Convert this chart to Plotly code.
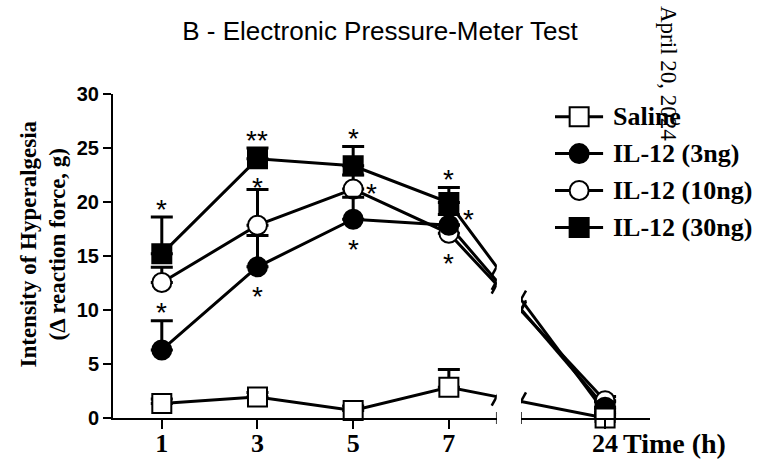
import plotly.graph_objects as go

# ---------------- data ----------------
times = [1, 3, 5, 7, 24]
x_ticks_early = [1, 3, 5, 7]
x_ticks_late = [24]
y_ticks = [0, 5, 10, 15, 20, 25, 30]

series_names = ['Saline', 'IL-12 (3ng)', 'IL-12 (10ng)', 'IL-12 (30ng)']
saline = [1.35, 1.95, 0.7, 2.85, 0.0]
saline_err = [0.4, 0.4, 0.4, 1.65, 0.3]
il12_3 = [6.3, 14.0, 18.4, 17.85, 1.0]
il12_3_err = [2.7, 2.9, 2.05, 1.0, 0.5]
il12_10 = [12.55, 17.85, 21.2, 17.1, 1.6]
il12_10_err = [1.4, 3.3, 1.3, 0.8, 0.4]
il12_30 = [15.2, 24.0, 23.35, 19.95, 0.5]
il12_30_err = [3.4, 1.0, 1.8, 1.4, 0.3]

# significance marks: series, time, text, placement
sig_series = ['IL-12 (30ng)', 'IL-12 (10ng)', 'IL-12 (30ng)', 'IL-12 (10ng)', 'IL-12 (3ng)',
              'IL-12 (30ng)', 'IL-12 (10ng)', 'IL-12 (3ng)', 'IL-12 (30ng)', 'IL-12 (3ng)', 'IL-12 (10ng)']
sig_time = [1, 1, 3, 3, 3, 5, 5, 5, 7, 7, 7]
sig_text = ['*', '*', '**', '*', '*', '*', '*', '*', '*', '*', '*']
sig_place = ['above', 'below', 'above', 'above_tight', 'below', 'above', 'right', 'below',
             'above', 'upright', 'below']

# ---------------- layout geometry ----------------
W, H = 763, 459
PL, PR, PT, PB = 113, 113, 94, 41
plot_w = W - PL - PR
plot_h = H - PT - PB


def fx(px):
    return (px - PL) / plot_w


def fy(py):
    return (H - PB - py) / plot_h


D1 = [0, fx(496.7)]
R1 = [-0.02, 8.0]
D2 = [fx(521), 1]
R2 = [22.24, 24.94]

values = {'Saline': saline, 'IL-12 (3ng)': il12_3, 'IL-12 (10ng)': il12_10, 'IL-12 (30ng)': il12_30}
errors = {'Saline': saline_err, 'IL-12 (3ng)': il12_3_err, 'IL-12 (10ng)': il12_10_err,
          'IL-12 (30ng)': il12_30_err}
styles = {
    'Saline': dict(symbol='square', color='white'),
    'IL-12 (3ng)': dict(symbol='circle', color='black'),
    'IL-12 (10ng)': dict(symbol='circle', color='white'),
    'IL-12 (30ng)': dict(symbol='square', color='black'),
}
MS = 19
LW = 3


def px_of(v, dom, rng):
    return PL + plot_w * (dom[0] + (v - rng[0]) / (rng[1] - rng[0]) * (dom[1] - dom[0]))


p7 = px_of(times[3], D1, R1)
pA = px_of(R1[1], D1, R1)
pB = px_of(R2[0], D2, R2)
p24 = px_of(times[4], D2, R2)
fA = (pA - p7) / (p24 - p7)
fB = (pB - p7) / (p24 - p7)

fig = go.Figure()
shapes = []

# connecting lines (with break)
for name in series_names:
    v = values[name]
    yA = v[3] + fA * (v[4] - v[3])
    yB = v[3] + fB * (v[4] - v[3])
    fig.add_trace(go.Scatter(x=times[:4] + [R1[1]], y=v[:4] + [yA], mode='lines',
                             line=dict(color='black', width=LW), xaxis='x', yaxis='y',
                             showlegend=False, hoverinfo='skip'))
    fig.add_trace(go.Scatter(x=[R2[0], times[4]], y=[yB, v[4]], mode='lines',
                             line=dict(color='black', width=LW), xaxis='x2', yaxis='y',
                             showlegend=False, hoverinfo='skip'))
    for xr, xv, yv in (('x', R1[1], yA), ('x2', R2[0], yB)):
        shapes.append(dict(type='line', xref=xr, yref='y', xsizemode='pixel', ysizemode='pixel',
                           xanchor=xv, yanchor=yv, x0=-5, x1=5, y0=-9, y1=9,
                           line=dict(color='black', width=2.5)))

# markers with error bars (z-order as in the reference)
for name in ['IL-12 (10ng)', 'IL-12 (3ng)', 'IL-12 (30ng)', 'Saline']:
    v = values[name]
    e = errors[name]
    st = styles[name]
    for xr, sl in (('x', slice(0, 4)), ('x2', slice(4, 5))):
        n = len(times[sl])
        fig.add_trace(go.Scatter(
            x=times[sl], y=v[sl], mode='markers', xaxis=xr, yaxis='y', cliponaxis=False,
            marker=dict(symbol=st['symbol'], size=MS, color=st['color'],
                        line=dict(color='black', width=2)),
            error_y=dict(type='data', array=e[sl], arrayminus=[0] * n, symmetric=False,
                         color='black', thickness=3, width=11),
            showlegend=False, hoverinfo='skip'))

# axis break end ticks
shapes.append(dict(type='line', xref='x', yref='paper', ysizemode='pixel', yanchor=0,
                   x0=R1[1], x1=R1[1], y0=-6, y1=6, line=dict(color='black', width=1.5)))
shapes.append(dict(type='line', xref='x2', yref='paper', ysizemode='pixel', yanchor=0,
                   x0=R2[0], x1=R2[0], y0=-6, y1=6, line=dict(color='black', width=1.5)))

# legend drawn on its own hidden axes
LEG_ROW0 = 116.7 - PT
LEG_STEP = 36.9
for i, name in enumerate(series_names):
    st = styles[name]
    ry = LEG_ROW0 + i * LEG_STEP
    fig.add_trace(go.Scatter(x=[0, 1], y=[ry, ry], mode='lines', xaxis='x3', yaxis='y3',
                             line=dict(color='black', width=LW), showlegend=False,
                             hoverinfo='skip'))
    fig.add_trace(go.Scatter(x=[0.5], y=[ry], mode='markers', xaxis='x3', yaxis='y3',
                             marker=dict(symbol=st['symbol'], size=MS, color=st['color'],
                                         line=dict(color='black', width=2)),
                             showlegend=False, hoverinfo='skip', cliponaxis=False))

annotations = []
for i, name in enumerate(series_names):
    ry = LEG_ROW0 + i * LEG_STEP
    annotations.append(dict(text=name, xref='paper', yref='y3', x=fx(611), y=ry,
                            xanchor='left', yanchor='middle', showarrow=False,
                            font=dict(family='Liberation Serif', size=26, color='black',
                                      weight='bold')))

# significance asterisks
GLYPH = -6
shift = {'above': (0, 14), 'above_tight': (0, 8), 'below': (0, -24),
         'right': (18, 2), 'upright': (20, 12)}
for s, t, txt, pl in zip(sig_series, sig_time, sig_text, sig_place):
    k = times.index(t)
    yv = values[s][k] + (errors[s][k] if pl.startswith('above') else 0)
    dx, dy = shift[pl]
    annotations.append(dict(text=txt, xref='x', yref='y', x=t, y=yv, xshift=dx, yshift=dy + GLYPH,
                            showarrow=False, xanchor='center', yanchor='middle',
                            font=dict(family='Liberation Sans', size=28, color='black')))

# axis titles
annotations.append(dict(text='Intensity of Hyperalgesia<br>(\u0394 reaction force, g)',
                        xref='paper', yref='paper', x=0, y=0.5, xshift=42.5 - PL, yshift=12,
                        textangle=-90, showarrow=False, xanchor='center', yanchor='middle',
                        font=dict(family='Liberation Serif', size=23, color='black',
                                  weight='bold')))
annotations.append(dict(text='Time (h)', xref='paper', yref='paper', x=fx(621), y=fy(443.5),
                        xanchor='left', yanchor='middle', showarrow=False,
                        font=dict(family='Liberation Serif', size=28, color='black',
                                  weight='bold')))
# side date stamp
annotations.append(dict(text='April 20, 2024', xref='paper', yref='paper', x=fx(668), y=fy(73),
                        xanchor='center', yanchor='middle', textangle=90, showarrow=False,
                        font=dict(family='Liberation Serif', size=23, color='black')))

tick_serif = dict(family='Liberation Serif', size=26, color='black', weight='bold')

fig.update_layout(
    width=W, height=H,
    margin=dict(l=PL, r=PR, t=PT, b=PB, pad=0, autoexpand=False),
    paper_bgcolor='white', plot_bgcolor='rgba(0,0,0,0)',
    title=dict(text='B - Electronic Pressure-Meter Test', x=380 / W, xanchor='center',
               xref='container', y=1 - 31 / H, yanchor='middle', yref='container',
               font=dict(family='Liberation Sans', size=26, color='black')),
    xaxis=dict(domain=D1, range=R1, tickvals=x_ticks_early,
               ticktext=[str(v) for v in x_ticks_early], ticks='outside', ticklen=9,
               tickwidth=1.5, tickcolor='black', showline=True, linecolor='black',
               linewidth=1.5, showgrid=False, zeroline=False, tickfont=tick_serif,
               ticklabelstandoff=-8,
               anchor='y', fixedrange=True, automargin=False),
    xaxis2=dict(domain=D2, range=R2, tickvals=x_ticks_late,
                ticktext=[str(v) for v in x_ticks_late], ticks='outside', ticklen=9,
                tickwidth=1.5, tickcolor='black', showline=True, linecolor='black',
                linewidth=1.5, showgrid=False, zeroline=False, tickfont=tick_serif,
                ticklabelstandoff=-8,
                anchor='y', fixedrange=True, automargin=False),
    yaxis=dict(domain=[0, 1], range=[0, 30], tickvals=y_ticks, ticks='outside', ticklen=8,
               tickwidth=2, tickcolor='black', showline=True, linecolor='black',
               linewidth=2, showgrid=False, zeroline=False, anchor='x',
               tickfont=dict(family='Liberation Sans', size=20, color='black', weight='bold'),
               fixedrange=True, automargin=False),
    xaxis3=dict(domain=[fx(555), fx(603.3)], range=[0, 1], visible=False, anchor='y3',
                fixedrange=True),
    yaxis3=dict(domain=[0, 1], range=[plot_h, 0], visible=False, anchor='x3',
                fixedrange=True),
    shapes=shapes,
    annotations=annotations,
    showlegend=False,
)

fig.write_html('out.html')
